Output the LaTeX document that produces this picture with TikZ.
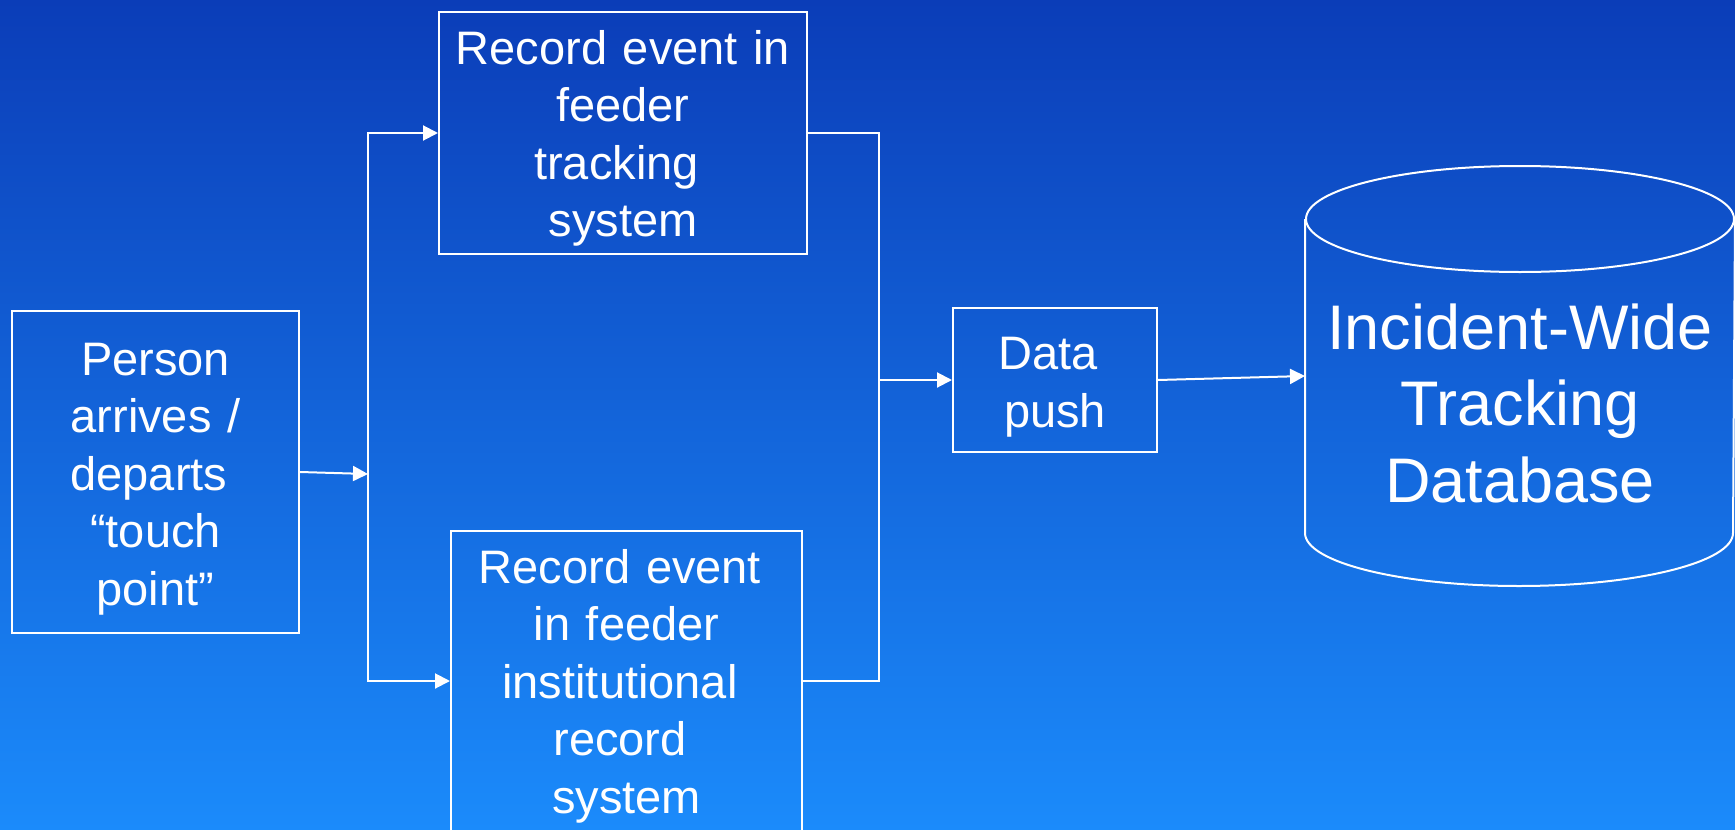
\documentclass[tikz,border=0pt]{standalone}
\usepackage{fontspec}
\setmainfont{Liberation Sans}
\usetikzlibrary{arrows.meta}
\definecolor{bgtop}{HTML}{0B3DB8}
\definecolor{bgbot}{HTML}{1B8BFB}
\newcommand{\tsp}{\hbox to 0.278em{}}
\tikzset{
  box/.style={draw=white, line width=2pt, inner sep=0pt, text=white, align=center,
    anchor=base, font=\fontsize{47}{57.5}\selectfont},
  arr/.style={draw=white, line width=2pt, -{Triangle[length=15pt,width=15pt]}},
  ln/.style={draw=white, line width=2pt},
}
\begin{document}
\begin{tikzpicture}[x=1pt,y=-1pt]
\shade[top color=bgtop,bottom color=bgbot] (0,0) rectangle (1735,830);
\useasboundingbox (0,0) rectangle (1735,830);
\clip (0,0) rectangle (1735,830);

\node[box, minimum width=287pt, text width=287pt, text height=64pt, text depth=258pt]
  (pb) at (155.5,375) {Person\\arrives /\\departs\tsp\\“touch\\point”};
\node[box, minimum width=368pt, text width=368pt, text height=52pt, text depth=190pt]
  (tb) at (623,64) {Record event in\\feeder\\tracking\tsp\\system};
\node[box, minimum width=351pt, text width=351pt, text height=52pt, text depth=248pt]
  (bb) at (626.5,583) {Record event\tsp\\in feeder\\institutional\tsp\\record\tsp\\system};
\node[box, minimum width=204pt, text width=204pt, text height=61pt, text depth=83pt,
  font=\fontsize{47}{58}\selectfont]
  (dp) at (1055,369) {Data\tsp\\push};
\node[box, draw=none, minimum width=428pt, text width=428pt, text height=129pt, text depth=183pt,
  font=\fontsize{63}{76.5}\selectfont]
  (db) at (1520,349) {Incident-Wide\\Tracking\\Database};

% cylinder outline
\draw[ln] (db.north) ellipse[x radius=214, y radius=53];
\draw[ln] (db.north west) -- (db.south west)
  arc[start angle=180, end angle=0, x radius=214, y radius=53] -- (db.north east);

% connectors
\coordinate (j1) at (368,474);
\coordinate (j2) at (879,380);
\draw[arr] (pb.east) -- (j1);
\draw[arr] (j1) |- (tb.west);
\draw[arr] (j1) |- (bb.west);
\draw[ln] (tb.east) -| (j2);
\draw[arr] (bb.east) -| (j2) -- (dp.west);
\draw[arr] (dp.east) -- (db.west);
\end{tikzpicture}
\end{document}
